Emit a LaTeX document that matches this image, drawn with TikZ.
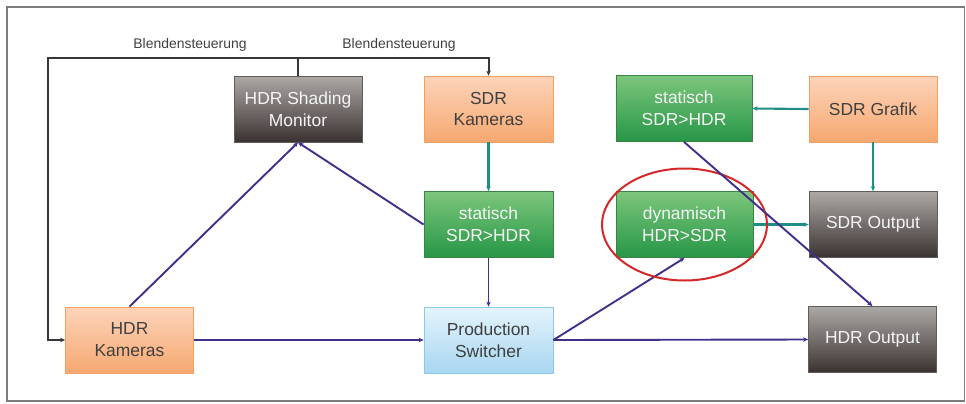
\documentclass[tikz,border=0pt]{standalone}
\usepackage{fontspec}
\setmainfont{Liberation Sans}
\usetikzlibrary{arrows.meta}
\definecolor{orTop}{RGB}{252,212,186}
\definecolor{orBot}{RGB}{246,168,112}
\definecolor{orBrd}{RGB}{242,160,100}
\definecolor{grTop}{RGB}{172,168,166}
\definecolor{grBot}{RGB}{58,50,48}
\definecolor{grBrd}{RGB}{95,92,90}
\definecolor{gnTop}{RGB}{124,198,124}
\definecolor{gnBot}{RGB}{38,150,70}
\definecolor{gnBrd}{RGB}{60,130,70}
\definecolor{blTop}{RGB}{228,244,252}
\definecolor{blBot}{RGB}{168,214,240}
\definecolor{blBrd}{RGB}{140,200,232}
\definecolor{txtDark}{RGB}{64,64,64}
\definecolor{txtLight}{RGB}{245,245,245}
\definecolor{lnBlue}{RGB}{64,48,140}
\definecolor{lnTeal}{RGB}{32,142,134}
\definecolor{lnCtl}{RGB}{55,55,55}
\definecolor{frameGray}{RGB}{125,125,125}
\definecolor{ringRed}{RGB}{212,40,40}
\tikzset{
  box/.style={rectangle, minimum width=128bp, minimum height=66bp, inner sep=2bp,
    align=center, font=\fontsize{17.5}{22}\selectfont, line width=0.8bp},
  orbox/.style={box, top color=orTop, bottom color=orBot, draw=orBrd, text=txtDark},
  grbox/.style={box, top color=grTop, bottom color=grBot, draw=grBrd, text=txtLight},
  gnbox/.style={box, top color=gnTop, bottom color=gnBot, draw=gnBrd, text=txtLight},
  blbox/.style={box, top color=blTop, bottom color=blBot, draw=blBrd, text=txtDark},
  tip/.style={-{Stealth[length=5bp,width=4.5bp]}},
  bluln/.style={tip, draw=lnBlue, line width=1.9bp},
  tealln/.style={tip, draw=lnTeal, line width=2.1bp},
  ctlln/.style={draw=lnCtl, line width=2bp},
  lbl/.style={font=\fontsize{14}{16}\selectfont, text=txtDark, inner sep=0pt}
}
\begin{document}
\begin{tikzpicture}[x=1bp, y=-1bp]
\useasboundingbox (0,0) rectangle (966,403);
\draw[frameGray, line width=1.5bp] (7,7) rectangle (964.5,401);

% nodes
\node[orbox] (hdrk) at (129.5,340) {HDR\\Kameras};
\node[grbox] (mon) at (298,109) {HDR Shading\\Monitor};
\node[orbox, minimum width=129bp] (sdrk) at (488.5,109) {SDR\\Kameras};
\node[gnbox, minimum width=129bp] (stm) at (488.5,224.5) {statisch\\SDR>HDR};
\node[blbox, minimum width=129bp] (sw) at (488.5,340) {Production\\Switcher};
\node[gnbox, minimum width=136bp] (stt) at (684,108.5) {statisch\\SDR>HDR};
\node[gnbox, minimum width=137bp] (dyn) at (684.5,224.5) {dynamisch\\HDR>SDR};
\node[orbox] (graf) at (873,109) {SDR Grafik};
\node[grbox] (sout) at (873,224.5) {SDR Output};
\node[grbox] (hout) at (872.5,339.5) {HDR Output};

% labels
\node[lbl] (lb1) at (190,45) {Blendensteuerung};
\node[lbl] (lb2) at (399,45) {Blendensteuerung};

% Blendensteuerung control lines
\coordinate (jl) at (48,58);
\draw[ctlln, -{Stealth[length=5bp,width=4.5bp]}] (mon.north) |- (jl) |- (hdrk.west);
\draw[ctlln, -{Stealth[length=5bp,width=4.5bp]}] (mon.north) |- (sdrk.north |- jl) -- (sdrk.north);

% teal connectors
\draw[tealln] (sdrk.south) -- (stm.north);
\draw[tealln] (graf.west) -- (stt.east);
\draw[tealln] (graf.south) -- (sout.north);
\draw[tealln] (dyn.east) -- (sout.west);

% blue connectors
\draw[bluln] (stm.south) -- (sw.north);
\draw[bluln] (stm.west) -- (mon.south);
\draw[bluln] (hdrk.north) -- (mon.south);
\draw[bluln] (hdrk.east) -- (sw.west);
\draw[bluln] (sw.east) -- (hout.west);
\draw[bluln] (sw.east) -- (dyn.south);

% highlight ring
\draw[ringRed, line width=2bp] (dyn.center) ellipse (82.5 and 56);

\draw[bluln] (stt.south) -- (hout.north);
\end{tikzpicture}
\end{document}
